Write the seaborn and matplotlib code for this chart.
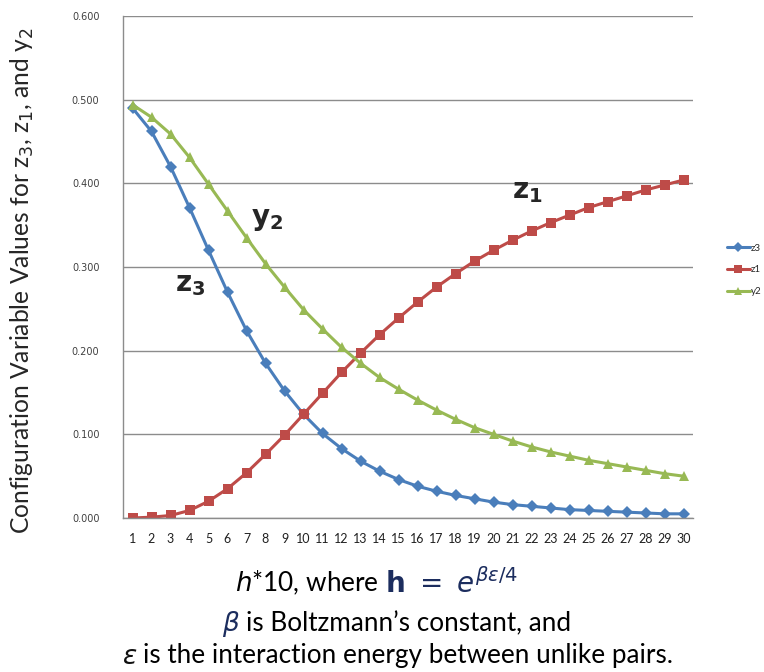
import numpy as np
import pandas as pd
import matplotlib
matplotlib.use("Agg")
import matplotlib.pyplot as plt
import seaborn as sns

h10 = list(range(1, 31))
z3 = [0.490, 0.462, 0.420, 0.371, 0.320, 0.270, 0.224, 0.185, 0.152, 0.124,
      0.101, 0.083, 0.068, 0.056, 0.046, 0.038, 0.032, 0.027, 0.023, 0.019,
      0.016, 0.014, 0.012, 0.010, 0.009, 0.008, 0.007, 0.006, 0.005, 0.005]
z1 = [0.000, 0.001, 0.003, 0.009, 0.020, 0.035, 0.054, 0.076, 0.099, 0.124,
      0.149, 0.174, 0.197, 0.219, 0.239, 0.258, 0.276, 0.292, 0.307, 0.320,
      0.332, 0.343, 0.353, 0.362, 0.371, 0.378, 0.385, 0.392, 0.398, 0.404]
y2 = [0.494, 0.479, 0.459, 0.431, 0.399, 0.367, 0.335, 0.304, 0.276, 0.249,
      0.226, 0.204, 0.185, 0.168, 0.154, 0.141, 0.129, 0.118, 0.108, 0.100,
      0.092, 0.085, 0.079, 0.074, 0.069, 0.065, 0.061, 0.057, 0.053, 0.050]
series_names = ["z3", "z1", "y2"]
colors = {"z3": "#4A7EBB", "z1": "#BE4B48", "y2": "#98B954"}
markers = {"z3": "D", "z1": "s", "y2": "^"}

df = pd.concat([
    pd.DataFrame({"h": h10, "value": z3, "series": "z3"}),
    pd.DataFrame({"h": h10, "value": z1, "series": "z1"}),
    pd.DataFrame({"h": h10, "value": y2, "series": "y2"}),
])

sns.set_style("white")
plt.rcParams["font.family"] = ["Lato", "DejaVu Sans"]
plt.rcParams["mathtext.fontset"] = "dejavusans"

W, H = 764, 672
fig = plt.figure(figsize=(7.64, 6.72), dpi=100)
ax = fig.add_axes([123 / W, 1 - 518 / H, (693 - 123) / W, (518 - 16) / H])

sns.lineplot(data=df, x="h", y="value", hue="series", style="series",
             hue_order=series_names, style_order=series_names,
             palette=colors, markers=markers, dashes=False,
             linewidth=2.2, markersize=6.5, markeredgewidth=0, ax=ax)

grid_c = "#8c8c8c"
ax.set_xlim(0.5, 30.5)
ax.set_ylim(0, 0.6)
yt = np.arange(0, 0.61, 0.1)
ax.set_yticks(yt)
ax.set_yticklabels([f"{v:.3f}" for v in yt], fontsize=7, color="#404040", family="DejaVu Sans")
ax.set_xticks(h10)
ax.set_xticklabels([str(v) for v in h10], fontsize=9, color="#202020")
ax.set_xticks(np.arange(0.5, 31, 1), minor=True)
ax.tick_params(axis="x", which="major", length=0, pad=11)
ax.tick_params(axis="x", which="minor", length=5, color=grid_c, direction="out")
ax.tick_params(axis="y", length=5, color=grid_c, direction="out", pad=12)
ax.grid(axis="y", color=grid_c, linewidth=1)
for s in ["top", "right"]:
    ax.spines[s].set_visible(False)
for s in ["left", "bottom"]:
    ax.spines[s].set_color(grid_c)
    ax.spines[s].set_linewidth(1)
ax.set_xlabel("")
ax.set_ylabel("")

handles, labels = ax.get_legend_handles_labels()
ax.legend(handles, labels, loc="center left", bbox_to_anchor=(718 / W, 1 - 270 / H),
          bbox_transform=fig.transFigure, frameon=False, fontsize=7,
          handlelength=2.4, handletextpad=0.1, labelspacing=1.3, markerscale=0.8)

# curve labels
fig.text(190 / W, 1 - 285 / H, r"$\mathbf{z}_\mathbf{3}$", fontsize=20, ha="center", va="center")
fig.text(267 / W, 1 - 220 / H, r"$\mathbf{y}_\mathbf{2}$", fontsize=20, ha="center", va="center")
fig.text(527 / W, 1 - 192 / H, r"$\mathbf{z}_\mathbf{1}$", fontsize=20, ha="center", va="center")

# y label
fig.text(22 / W, 1 - 281 / H,
         r"Configuration Variable Values for z$_3$, z$_1$, and y$_2$",
         rotation=90, fontsize=17.7, ha="center", va="center")

# x label, three lines built from pieces placed one after another
navy = "#1c2d5e"
lines = [
    (235, 583, [(r"$h$*10, where", 18.8, "black"), (r"$\mathbf{h}\ =\ e^{\beta\epsilon/4}$", 20, navy)]),
    (222, 624, [(r"$\beta$", 19, navy), ("is Boltzmann\u2019s constant, and", 18.8, "black")]),
    (122, 656, [(r"$\epsilon$", 19, "#101010"), ("is the interaction energy between unlike pairs.", 18.8, "black")]),
]
fig.canvas.draw()
renderer = fig.canvas.get_renderer()
for x0, yc, pieces in lines:
    x = x0
    for txt, fs, col in pieces:
        t = fig.text(x / W, 1 - yc / H, txt, fontsize=fs, color=col, ha="left", va="center")
        x += t.get_window_extent(renderer).width + 6

fig.savefig("out.png", dpi=100)
